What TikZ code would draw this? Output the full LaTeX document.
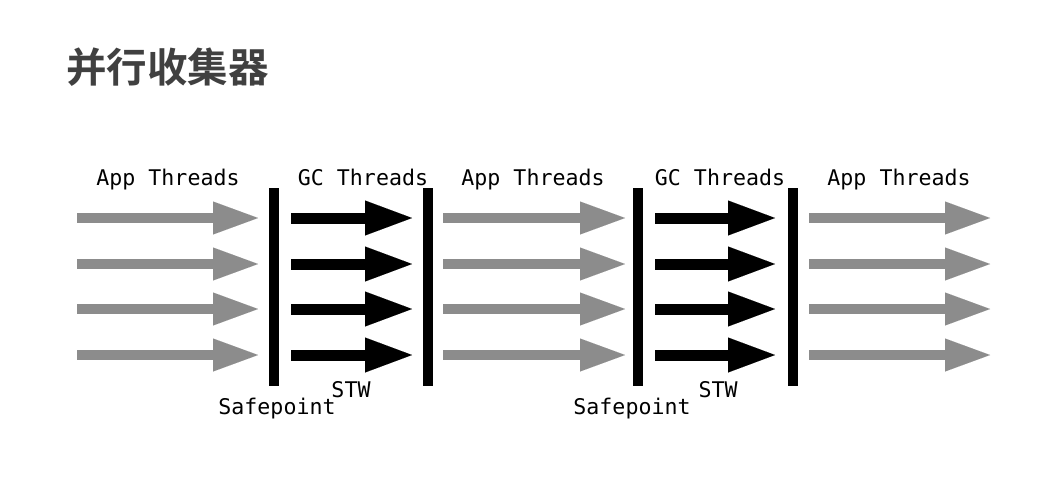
\documentclass[tikz,border=0pt]{standalone}
\usepackage{fontspec}
\setmonofont{DejaVu Sans Mono}
\newfontfamily\cjk{Noto Sans CJK SC Bold}
\usetikzlibrary{arrows.meta}
\definecolor{arrgray}{RGB}{140,140,140}
\definecolor{titlegray}{RGB}{64,64,64}
\tikzset{
  apparrow/.style={draw=arrgray, line width=10pt, -{Triangle[length=45pt,width=33pt,line width=0.01pt]}},
  gcarrow/.style={draw=black, line width=11pt, -{Triangle[length=47pt,width=35pt,line width=0.01pt]}},
  barline/.style={draw=black, line width=10pt},
  lbl/.style={font=\ttfamily\fontsize{21.6}{24}\selectfont, anchor=base, inner sep=0pt},
  titlelbl/.style={font=\cjk\fontsize{40.5}{44}\selectfont, text=titlegray, anchor=west, inner sep=0pt}
}
\begin{document}
\begin{tikzpicture}[x=1pt,y=-1pt]
\useasboundingbox (0,0) rectangle (1064,479);
\node[titlelbl] (title) at (66,67) {并行收集器};
% arrows
\foreach \r/\y in {1/218,2/264,3/309,4/355}{
  \foreach \g/\a/\b in {1/77/258,2/443/625,3/809/990}{
    \coordinate (as\g\r) at (\a,\y);
    \coordinate (ae\g\r) at (\b,\y);
    \draw[apparrow] (as\g\r) -- (ae\g\r);
  }
  \foreach \g/\a/\b in {1/291/412,2/655/775}{
    \coordinate (gs\g\r) at (\a,\y);
    \coordinate (ge\g\r) at (\b,\y);
    \draw[gcarrow] (gs\g\r) -- (ge\g\r);
  }
}
% bars
\foreach \i/\x in {1/274,2/428,3/638,4/793}{
  \coordinate (bt\i) at (\x,188);
  \coordinate (bb\i) at (\x,386);
  \draw[barline] (bt\i) -- (bb\i);
}
% labels
\node[lbl] (app1) at (168,185) {App Threads};
\node[lbl] (gc1) at (363,185) {GC Threads};
\node[lbl] (app2) at (533,185) {App Threads};
\node[lbl] (gc2) at (720,185) {GC Threads};
\node[lbl] (app3) at (899,185) {App Threads};
\node[lbl] (sp1) at (277,414) {Safepoint};
\node[lbl] (stw1) at (351,397) {STW};
\node[lbl] (sp2) at (632,414) {Safepoint};
\node[lbl] (stw2) at (718,397) {STW};
\end{tikzpicture}
\end{document}
